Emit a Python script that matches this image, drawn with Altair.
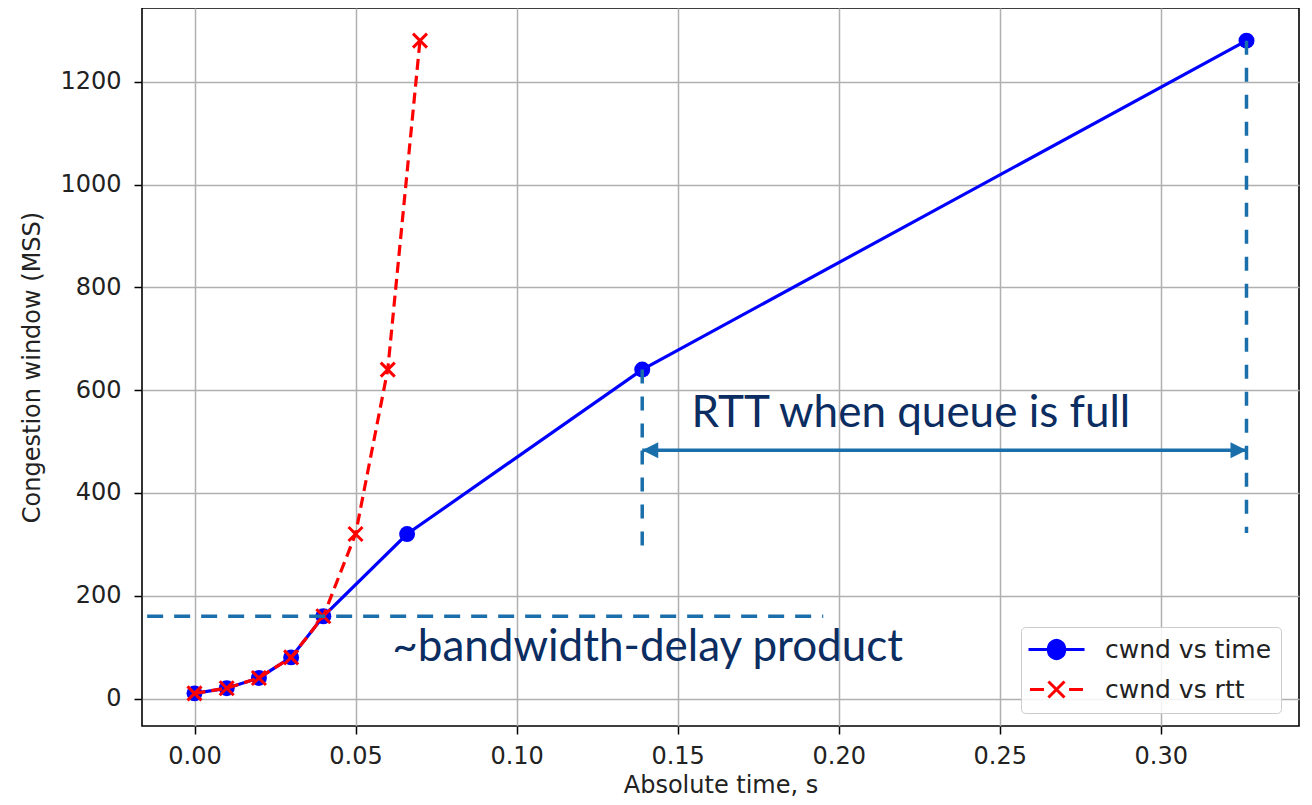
import altair as alt
import pandas as pd

# ---- data ----
time_x = [0.0, 0.01, 0.02, 0.03, 0.04, 0.066, 0.139, 0.3266]
rtt_x = [0.0, 0.01, 0.02, 0.03, 0.04, 0.05, 0.06, 0.07]
cwnd = [10, 20, 40, 80, 160, 320, 640, 1280]
series_names = ["cwnd vs time", "cwnd vs rtt"]
x_ticks = [0.0, 0.05, 0.10, 0.15, 0.20, 0.25, 0.30]
y_ticks = [0, 200, 400, 600, 800, 1000, 1200]

# annotations (data coordinates)
bdp_level = [160]
bdp_from = [-0.0147]
bdp_to = [0.1952]
rtt_start = [0.139, 0.3266]
rtt_top = [640, 1280]
rtt_bottom = [292, 322]
arrow_level = [483]
note_text = ["RTT when queue is full", "~bandwidth-delay product"]
note_x = [0.1543, 0.0614]
note_y = [528, 72]

BLUE = "#0000ff"
RED = "#ff0000"
ANN = "#1a6fab"
NAVY = "#0b2d61"
TXT = "#222222"

df_time = pd.DataFrame({"t": time_x, "cwnd": cwnd, "series": series_names[0]})
df_rtt = pd.DataFrame({"t": rtt_x, "cwnd": cwnd, "series": series_names[1]})
df_all = pd.concat([df_time, df_rtt], ignore_index=True)

X = alt.X("t:Q",
          scale=alt.Scale(domain=[-0.0163, 0.3429], nice=False, zero=False),
          axis=alt.Axis(values=x_ticks, format=".2f", title="Absolute time, s",
                        titleY=66, titleBaseline="alphabetic"))
Y = alt.Y("cwnd:Q",
          scale=alt.Scale(domain=[-53.5, 1343.5], nice=False, zero=False),
          axis=alt.Axis(values=y_ticks, format="d", title="Congestion window (MSS)",
                        titleX=-110, titleY=359, titleAngle=-90,
                        titleAlign="center", titleBaseline="middle"))

blue_line = alt.Chart(df_time).mark_line(color=BLUE, strokeWidth=3.2).encode(x=X, y=Y)
blue_pts = alt.Chart(df_time).mark_point(shape="circle", filled=True, size=255,
                                         color=BLUE, opacity=1).encode(x=X, y=Y)
red_line = alt.Chart(df_rtt).mark_line(color=RED, strokeWidth=3.2,
                                       strokeDash=[11, 6]).encode(x=X, y=Y)
red_pts = alt.Chart(df_rtt).mark_point(shape="M-1,-1L1,1M-1,1L1,-1", filled=False,
                                       size=196, color=RED, strokeWidth=3,
                                       opacity=1).encode(x=X, y=Y)

# legend (drawn by Vega-Lite's legend from an invisible layer)
leg_blue = "M-1.25,0L3.42,0M0.42,0A0.67,0.67 0 1 1 1.75,0A0.67,0.67 0 1 1 0.42,0Z"
leg_red = ("M-1.13,0L0.04,0M2.13,0L3.29,0"
           "M0.41,-0.67L1.75,0.67M0.41,0.67L1.75,-0.67")
legend = alt.Legend(title=None, orient="none", legendX=879, legendY=619,
                    padding=9, cornerRadius=4, strokeColor="#cccccc",
                    fillColor="rgba(255,255,255,0.85)",
                    labelFont="DejaVu Sans", labelFontSize=25, labelColor=TXT,
                    labelLimit=400,
                    labelOffset=48, rowPadding=10, symbolSize=576,
                    symbolStrokeWidth=3, symbolOpacity=1)
legend_layer = alt.Chart(df_all).mark_point(filled=True, opacity=0, size=10).encode(
    x=X, y=Y,
    shape=alt.Shape("series:N", scale=alt.Scale(domain=series_names, range=[leg_blue, leg_red]), legend=legend),
    fill=alt.Fill("series:N", scale=alt.Scale(domain=series_names, range=[BLUE, "transparent"]), legend=legend),
    stroke=alt.Stroke("series:N", scale=alt.Scale(domain=series_names, range=[BLUE, RED]), legend=legend),
)

# annotations
hdash = alt.Chart(pd.DataFrame({"t": bdp_from, "t2": bdp_to, "cwnd": bdp_level})).mark_rule(
    color=ANN, strokeWidth=3.5, strokeDash=[16, 11]).encode(x=X, x2="t2:Q", y=Y)
vdash = alt.Chart(pd.DataFrame({"t": rtt_start, "cwnd": rtt_top, "c2": rtt_bottom})).mark_rule(
    color=ANN, strokeWidth=3.5, strokeDash=[14, 13]).encode(x=X, y=Y, y2="c2:Q")
arrow_df = pd.DataFrame({"t": [rtt_start[0]], "t2": [rtt_start[1]], "cwnd": arrow_level})
arrow_line = alt.Chart(arrow_df).mark_rule(color=ANN, strokeWidth=3.5).encode(x=X, x2="t2:Q", y=Y)
head_l = alt.Chart(pd.DataFrame({"t": [rtt_start[0]], "cwnd": arrow_level})).mark_point(
    shape="M0,0L1,-0.5L1,0.5Z", size=1024, filled=True, color=ANN, opacity=1,
    strokeWidth=0).encode(x=X, y=Y)
head_r = alt.Chart(pd.DataFrame({"t": [rtt_start[1]], "cwnd": arrow_level})).mark_point(
    shape="M0,0L-1,-0.5L-1,0.5Z", size=1024, filled=True, color=ANN, opacity=1,
    strokeWidth=0).encode(x=X, y=Y)
notes = alt.Chart(pd.DataFrame({"t": note_x, "cwnd": note_y, "label": note_text})).mark_text(
    align="left", baseline="alphabetic", font="Lato", fontSize=44, color=NAVY).encode(
    x=X, y=Y, text="label:N")

chart = alt.layer(
    blue_line, blue_pts, red_line, red_pts, legend_layer,
    hdash, vdash, arrow_line, head_l, head_r, notes,
).properties(
    width=1157, height=718,
    autosize=alt.AutoSizeParams(type="none"),
    padding={"left": 134, "top": 0, "right": 5, "bottom": 71},
).configure_view(
    stroke="black", strokeWidth=1.6
).configure_axis(
    grid=True, gridColor="#b0b0b0", gridWidth=1.5, domain=False,
    tickColor="black", tickWidth=1.5, tickSize=8,
    labelFont="DejaVu Sans", labelFontSize=24, labelColor=TXT, labelPadding=10,
    titleFont="DejaVu Sans", titleFontSize=24, titleFontWeight="normal", titleColor=TXT,
).configure_axisY(labelPadding=13)

chart.save("out.html", embed_options={"renderer": "svg", "actions": False})
